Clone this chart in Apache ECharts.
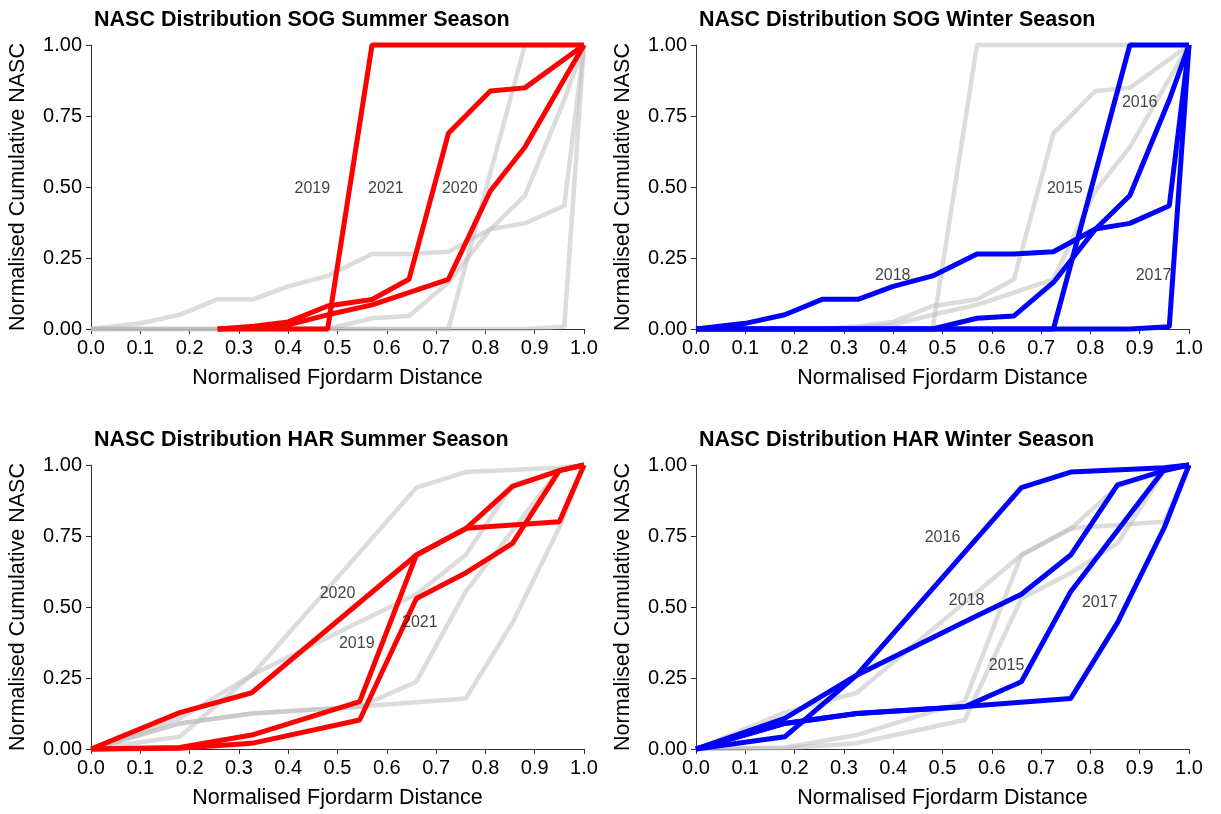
<!DOCTYPE html>
<html><head><meta charset="utf-8">
<script src="https://cdn.jsdelivr.net/npm/echarts@6/dist/echarts.min.js"></script>
<style>html,body{margin:0;padding:0;background:#fff}#c{width:1221px;height:814px}</style>
</head><body><div id="c"></div>
<script>
// ---- Data ----
const xTickValues = [0, 0.1, 0.2, 0.3, 0.4, 0.5, 0.6, 0.7, 0.8, 0.9, 1.0];
const yTickValues = [0, 0.25, 0.5, 0.75, 1.0];

// SOG fjordarm: normalised distance of stations
const sogX = [0, 0.1, 0.18, 0.257, 0.33, 0.40, 0.48, 0.57, 0.645, 0.725, 0.81, 0.88, 0.96, 1.0];
// SOG summer (null = no station sampled / not readable)
const sog2019 = [null, null, null, 0, 0, 0, 0, 1.0, 1.0, 1.0, 1.0, 1.0, 1.0, 1.0];
const sog2020 = [null, null, null, 0, 0.005, 0.015, 0.05, 0.085, null, 0.175, 0.486, 0.64, null, 1.0];
const sog2021 = [null, null, null, 0, 0.01, 0.025, 0.081, 0.104, 0.175, 0.689, 0.838, 0.849, null, 1.0];
// SOG winter
const sog2015 = [0, 0, 0, 0, 0, 0, 0, 0.038, 0.046, 0.164, 0.351, 0.47, 0.807, 1.0];
const sog2016 = [0, 0, 0, 0, 0, 0, 0, 0, 0, 0, null, 1.0, 1.0, 1.0];
const sog2017 = [0, 0, 0, 0, 0, 0, 0, 0, 0, 0, 0, 0, 0.008, 1.0];
const sog2018 = [0, 0.02, 0.05, 0.105, 0.105, 0.15, 0.187, 0.264, 0.264, 0.272, 0.352, 0.372, 0.434, 1.0];

// HAR fjordarm
const harX = [0, 0.18, 0.326, 0.545, 0.66, 0.76, 0.855, 0.95, 1.0];
// HAR summer
const har2019 = [0, 0.005, 0.049, 0.167, 0.683, 0.777, null, 0.80, 1.0];
const har2020 = [0, 0.128, 0.198, null, 0.683, 0.775, 0.925, 0.98, 1.0];
const har2021 = [0, 0.003, 0.02, 0.102, 0.53, 0.62, 0.724, 0.98, 1.0];
// HAR winter
const har2015 = [0, 0.09, 0.125, 0.149, 0.237, 0.554, null, 0.985, 1.0];
const har2016 = [0, 0.043, 0.26, null, 0.92, 0.975, null, 0.99, 1.0];
const har2017 = [0, 0.09, 0.125, 0.15, null, 0.178, 0.445, 0.78, 1.0];
const har2018 = [0, 0.108, 0.26, 0.448, 0.545, 0.683, 0.93, 0.98, 1.0];

// Year label anchors (data coordinates)
const sogSummerLabels = [['2019', 0.449, 0.493], ['2021', 0.598, 0.493], ['2020', 0.748, 0.493]];
const sogWinterLabels = [['2016', 0.90, 0.797], ['2015', 0.748, 0.493], ['2018', 0.399, 0.188], ['2017', 0.928, 0.188]];
const harSummerLabels = [['2020', 0.50, 0.546], ['2021', 0.667, 0.445], ['2019', 0.539, 0.372]];
const harWinterLabels = [['2016', 0.50, 0.744], ['2018', 0.549, 0.521], ['2015', 0.63, 0.293], ['2017', 0.819, 0.516]];

const titles = ['NASC Distribution SOG Summer Season', 'NASC Distribution SOG Winter Season',
                'NASC Distribution HAR Summer Season', 'NASC Distribution HAR Winter Season'];
const xName = 'Normalised Fjordarm Distance';
const yName = 'Normalised Cumulative NASC';

// ---- Build ----
const RED = '#ff0000', BLUE = '#0000ff', GREY = 'rgba(185,185,185,0.5)';
const FONT = 'Liberation Sans, Arial, sans-serif';
function pairs(xs, ys) { const o = []; xs.forEach((x, i) => { if (ys[i] !== null) o.push([x, ys[i]]); }); return o; }

const panels = [
  { left: 91, top: 45, xs: sogX, hi: [sog2019, sog2020, sog2021], grey: [sog2015, sog2016, sog2017, sog2018], color: RED, labels: sogSummerLabels },
  { left: 696, top: 45, xs: sogX, hi: [sog2015, sog2016, sog2017, sog2018], grey: [sog2019, sog2020, sog2021], color: BLUE, labels: sogWinterLabels },
  { left: 91, top: 465, xs: harX, hi: [har2019, har2020, har2021], grey: [har2015, har2016, har2017, har2018], color: RED, labels: harSummerLabels },
  { left: 696, top: 465, xs: harX, hi: [har2015, har2016, har2017, har2018], grey: [har2019, har2020, har2021], color: BLUE, labels: harWinterLabels }
];

const W = 493, H = 284;
const option = { animation: false, backgroundColor: '#fff', title: [], grid: [], xAxis: [], yAxis: [], series: [] };
panels.forEach((p, i) => {
  option.title.push({ text: titles[i], left: p.left - 2, top: p.top - 41,
    textStyle: { fontFamily: FONT, fontWeight: 'bold', fontSize: 21.5, color: '#000' } });
  option.grid.push({ left: p.left, top: p.top, width: W, height: H, containLabel: false });
  option.xAxis.push({ type: 'value', gridIndex: i, min: 0, max: 1, interval: 0.1,
    name: xName, nameLocation: 'middle', nameGap: 38,
    nameTextStyle: { fontFamily: FONT, fontSize: 21.5, color: '#000' },
    axisLine: { lineStyle: { color: '#333', width: 1 } },
    axisTick: { length: 5, lineStyle: { color: '#333' } },
    axisLabel: { fontFamily: FONT, fontSize: 20, color: '#000', margin: 9, formatter: v => v.toFixed(1) },
    splitLine: { show: false } });
  option.yAxis.push({ type: 'value', gridIndex: i, min: 0, max: 1, interval: 0.25,
    name: yName, nameLocation: 'middle', nameGap: 62, nameRotate: 90,
    nameTextStyle: { fontFamily: FONT, fontSize: 21.5, color: '#000' },
    axisLine: { show: true, lineStyle: { color: '#333', width: 1 } },
    axisTick: { show: true, length: 5, lineStyle: { color: '#333' } },
    axisLabel: { fontFamily: FONT, fontSize: 20, color: '#000', margin: 9, formatter: v => v.toFixed(2) },
    splitLine: { show: false } });
  p.grey.forEach(ys => option.series.push({ type: 'line', xAxisIndex: i, yAxisIndex: i, data: pairs(p.xs, ys),
    showSymbol: false, clip: false, lineStyle: { color: GREY, width: 4.5 }, z: 2 }));
  p.hi.forEach(ys => option.series.push({ type: 'line', xAxisIndex: i, yAxisIndex: i, data: pairs(p.xs, ys),
    showSymbol: false, clip: false, lineStyle: { color: p.color, width: 5 }, z: 3 }));
  option.series.push({ type: 'scatter', xAxisIndex: i, yAxisIndex: i, symbolSize: 0, z: 5,
    data: p.labels.map(l => ({ name: l[0], value: [l[1], l[2]] })),
    label: { show: true, position: 'inside', formatter: d => d.name, fontFamily: FONT, fontSize: 16, color: '#111' } });
});

const chart = echarts.init(document.getElementById('c'), null, { renderer: 'canvas' });
chart.setOption(option);
</script></body></html>
